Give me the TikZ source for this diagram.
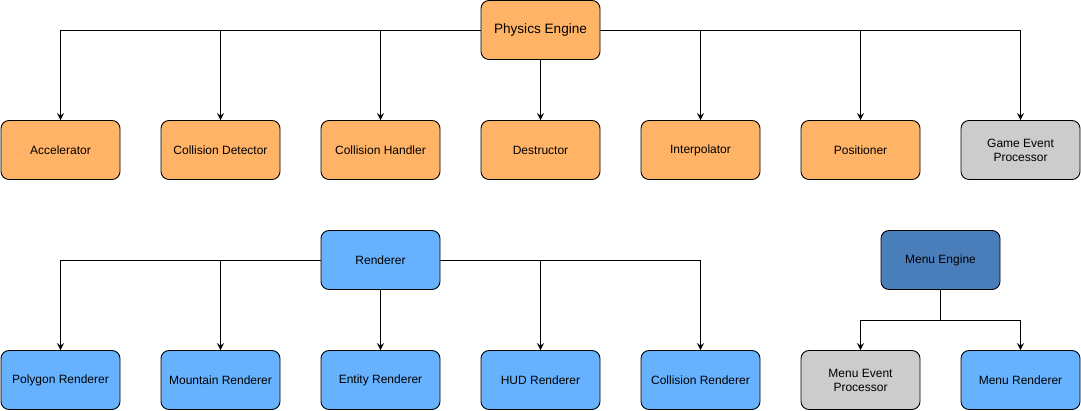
\documentclass[tikz,border=0pt]{standalone}
\usepackage{fontspec}
\setmainfont{Liberation Sans}
\usetikzlibrary{arrows.meta}
\definecolor{orng}{HTML}{FFB366}
\definecolor{gry}{HTML}{CCCCCC}
\definecolor{lblue}{HTML}{66B2FF}
\definecolor{dblue}{HTML}{4A7EBB}
\tikzset{
  box/.style={draw=black, line width=0.9pt, rounded corners=8pt, minimum width=119pt, minimum height=59pt, inner sep=2pt, align=center, font=\fontsize{12}{14}\selectfont},
  obox/.style={box, fill=orng},
  gbox/.style={box, fill=gry},
  bbox/.style={box, fill=lblue},
  dbox/.style={box, fill=dblue},
  conn/.style={draw=black, line width=0.9pt, -{Stealth[length=7pt,width=7pt,inset=2.5pt]}},
  seg/.style={draw=black, line width=0.9pt}
}
\begin{document}
\begin{tikzpicture}[x=1pt,y=-1pt]
\useasboundingbox (0,0) rectangle (1081,411);
% Physics group
\node[obox, font=\fontsize{13.6}{16}\selectfont] (pe) at (540.5,30) {Physics Engine};
\node[obox] (acc) at (60.5,150) {Accelerator};
\node[obox] (cd) at (220.5,150) {Collision Detector};
\node[obox] (ch) at (380.5,150) {Collision Handler};
\node[obox] (de) at (540.5,150) {Destructor};
\node[obox] (ip) at (700.5,150) {Interpolator};
\node[obox] (po) at (860.5,150) {Positioner};
\node[gbox] (ge) at (1020.5,150) {Game Event\\Processor};
\foreach \n in {acc,cd,ch,ip,po,ge}{
  \draw[conn] (pe) -| (\n.north);
}
\draw[conn] (pe) -- (de);
% Renderer group
\node[bbox] (re) at (380.5,260) {Renderer};
\node[bbox] (pr) at (60.5,380) {Polygon Renderer};
\node[bbox] (mr) at (220.5,380) {Mountain Renderer};
\node[bbox] (er) at (380.5,380) {Entity Renderer};
\node[bbox] (hr) at (540.5,380) {HUD Renderer};
\node[bbox] (cr) at (700.5,380) {Collision Renderer};
\foreach \n in {pr,mr,hr,cr}{
  \draw[conn] (re) -| (\n.north);
}
\draw[conn] (re) -- (er);
% Menu group
\node[dbox] (me) at (940.5,260) {Menu Engine};
\node[gbox] (mep) at (860.5,380) {Menu Event\\Processor};
\node[bbox] (mren) at (1020.5,380) {Menu Renderer};
\coordinate (mj) at (940.5,320);
\draw[seg] (me) -- (mj);
\draw[conn] (mj) -| (mep.north);
\draw[conn] (mj) -| (mren.north);
\end{tikzpicture}
\end{document}
